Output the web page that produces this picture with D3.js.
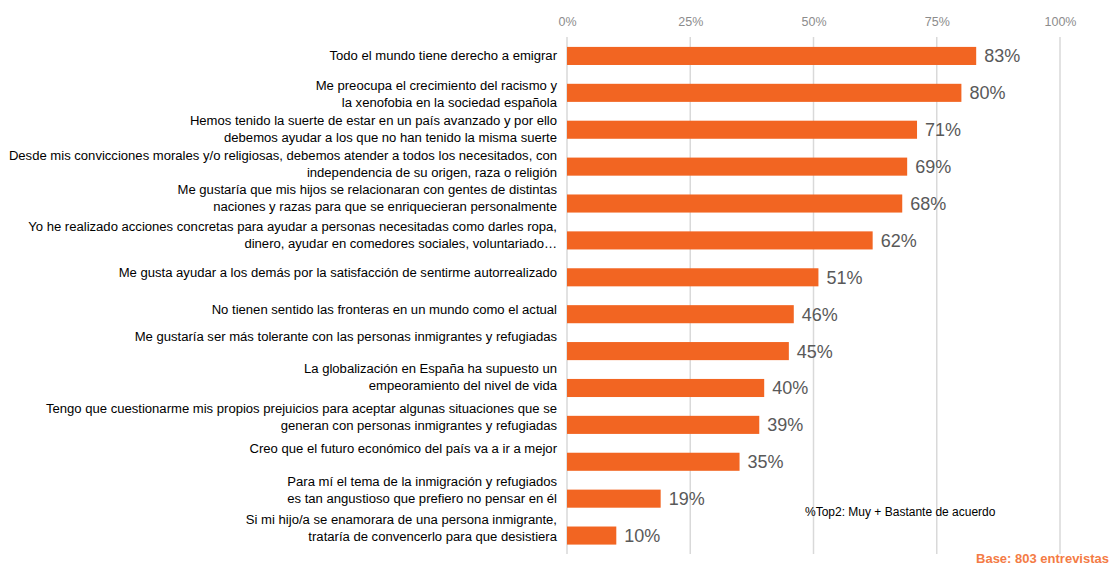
<!DOCTYPE html>
<html>
<head>
<meta charset="utf-8">
<script src="https://cdn.jsdelivr.net/npm/d3@7"></script>
<style>
  body { margin: 0; background: #fff; }
  svg { display: block; }
  .cat { font-family: "Liberation Sans Narrow", "Arial Narrow", "Liberation Sans", sans-serif; font-size: 13.5px; fill: #000; }
  .val { font-family: "Liberation Sans", Arial, sans-serif; font-size: 18px; fill: #595959; }
  .tick text { font-family: "Liberation Sans Narrow", "Liberation Sans", sans-serif; font-size: 12.5px; fill: #8c8c8c; }
</style>
</head>
<body>
<svg id="chart"></svg>
<script>
// categories (lines split with \n like in the original)
const categories = [
  "Todo el mundo tiene derecho a emigrar",
  "Me preocupa el crecimiento del racismo y\nla xenofobia en la sociedad española",
  "Hemos tenido la suerte de estar en un país avanzado y  por ello\ndebemos ayudar a los que no han tenido la misma suerte",
  "Desde mis convicciones morales y/o religiosas, debemos atender a todos los necesitados, con\nindependencia de su origen, raza o religión",
  "Me gustaría que mis hijos se relacionaran con gentes de distintas\nnaciones y razas para que se enriquecieran personalmente",
  "Yo he realizado  acciones concretas para ayudar a personas necesitadas como darles ropa,\ndinero, ayudar en comedores sociales, voluntariado…",
  "Me gusta ayudar a los demás por la satisfacción de sentirme autorrealizado",
  "No tienen sentido las fronteras en un mundo como el actual",
  "Me gustaría ser más tolerante con las personas inmigrantes y refugiadas",
  "La globalización en España ha supuesto un\nempeoramiento del nivel de vida",
  "Tengo que cuestionarme mis propios prejuicios para aceptar algunas situaciones que se\ngeneran con personas inmigrantes y refugiadas",
  "Creo que el futuro económico del país va a ir a mejor",
  "Para mí el tema de la inmigración y refugiados\nes tan angustioso que prefiero no pensar en él",
  "Si mi hijo/a se enamorara de una persona inmigrante,\ntrataría de convencerlo para que desistiera"
];
const values = [83, 80, 71, 69, 68, 62, 51, 46, 45, 40, 39, 35, 19, 10];
const tickValues = [0, 25, 50, 75, 100];
const note = "%Top2: Muy + Bastante de acuerdo";
const baseText = "Base: 803  entrevistas";

// layout: the labels in the original sit a bit off their bars, row by row
const labelShift = [-1, 1, -1, -3, -6, -6, -5, -5, -15, -11, -8, -13, -9, -8];

const width = 1111, height = 566;
const orange = "#F26522";

const svg = d3.select("#chart")
    .attr("width", width)
    .attr("height", height);

const x = d3.scaleLinear().domain([0, 100]).range([567, 1060]);
const y = d3.scaleBand()
    .domain(d3.range(categories.length))
    .range([37.5, 554])
    .paddingInner(0.51)
    .paddingOuter(0.255);

// gridlines
svg.append("g")
    .selectAll("line")
    .data(tickValues)
    .join("line")
    .attr("x1", d => x(d)).attr("x2", d => x(d))
    .attr("y1", 37).attr("y2", 554)
    .attr("stroke", "#d9d9d9")
    .attr("stroke-width", 1.5);

// top axis, only labels
const axis = svg.append("g")
    .attr("transform", "translate(0,26)")
    .call(d3.axisTop(x).tickValues(tickValues).tickSize(0).tickPadding(0).tickFormat(d => d + "%"));
axis.select(".domain").remove();

// bars
svg.append("g")
    .selectAll("rect")
    .data(values)
    .join("rect")
    .attr("x", x(0))
    .attr("y", (d, i) => y(i))
    .attr("width", d => x(d) - x(0))
    .attr("height", y.bandwidth())
    .attr("fill", orange);

// value labels
svg.append("g")
    .selectAll("text")
    .data(values)
    .join("text")
    .attr("class", "val")
    .attr("x", d => x(d) + 8)
    .attr("y", (d, i) => y(i) + y.bandwidth() / 2)
    .attr("dy", "0.36em")
    .text(d => d + "%");

// category labels
const lineH = 17;
const cats = svg.append("g")
    .selectAll("text")
    .data(categories)
    .join("text")
    .attr("class", "cat")
    .attr("text-anchor", "end")
    .attr("transform", (d, i) => {
        const lines = d.split("\n").length;
        const cy = y(i) + y.bandwidth() / 2 + labelShift[i];
        return "translate(557," + (cy - (lines - 1) * lineH / 2) + ") scale(0.97,1)";
    });
cats.selectAll("tspan")
    .data(d => d.split("\n"))
    .join("tspan")
    .attr("x", 0)
    .attr("dy", (d, i) => i === 0 ? "0.35em" : lineH)
    .text(d => d);

// footnotes
svg.append("text")
    .attr("x", 805).attr("y", 512)
    .attr("dy", "0.35em")
    .style("font-family", "'Liberation Sans Narrow', 'Liberation Sans', sans-serif")
    .style("font-size", "12px")
    .attr("fill", "#000")
    .text(note);

svg.append("text")
    .attr("x", 1109).attr("y", 558)
    .attr("dy", "0.35em")
    .attr("text-anchor", "end")
    .style("font-family", "'Liberation Sans Narrow', 'Liberation Sans', sans-serif")
    .style("font-size", "13px")
    .style("font-weight", "bold")
    .attr("fill", "#F47B45")
    .text(baseText);
</script>
</body>
</html>
